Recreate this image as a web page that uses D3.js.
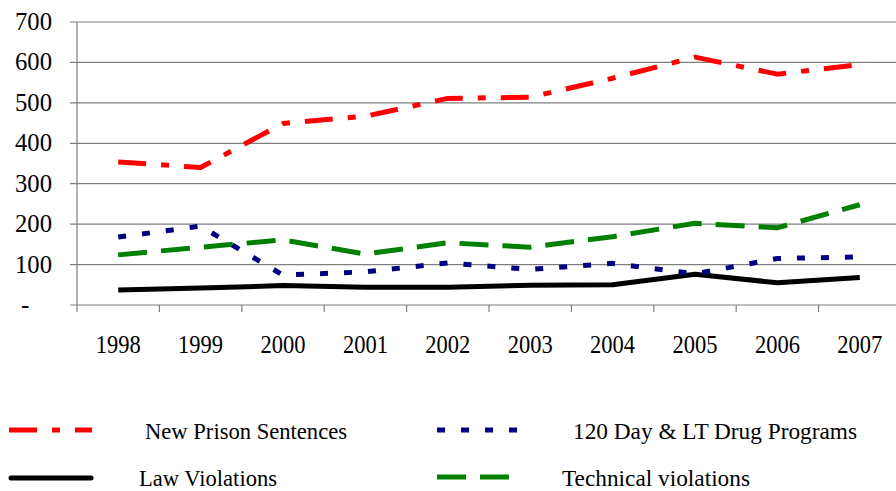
<!DOCTYPE html>
<html><head><meta charset="utf-8">
<script src="https://cdn.jsdelivr.net/npm/d3@7"></script>
</head><body style="margin:0">
<svg id="c" width="896" height="491" font-family="Liberation Serif">
</svg>
<script>
const years = ["1998","1999","2000","2001","2002","2003","2004","2005","2006","2007"];
const newPrison = [354, 340, 449, 467, 511, 514, 561, 613, 571, 595];
const drugPrograms = [168, 195, 74, 82, 104, 88, 103, 77, 115, 119];
const lawViolations = [37, 42, 48, 44, 44, 49, 50, 76, 55, 68];
const technical = [124, 143, 161, 126, 154, 143, 169, 202, 191, 248];
const yTicks = [0, 100, 200, 300, 400, 500, 600, 700];
const yTickLabels = ["-", "100", "200", "300", "400", "500", "600", "700"];
const seriesNames = ["New Prison Sentences", "120 Day & LT Drug Programs", "Law Violations", "Technical violations"];

const FONT = "Liberation Serif";
const svg = d3.select("#c");
const x = d3.scaleBand().domain(years).range([77, 901]);
const y = d3.scaleLinear().domain([0, 700]).range([305, 22]);

// gridlines
svg.append("g").selectAll("line").data(yTicks).join("line")
  .attr("x1", 70).attr("x2", 896)
  .attr("y1", d => y(d)).attr("y2", d => y(d))
  .attr("stroke", "#7f7f7f").attr("stroke-width", 1.2);
// y axis
svg.append("line").attr("x1", 77).attr("x2", 77).attr("y1", y(700)).attr("y2", y(0))
  .attr("stroke", "#7f7f7f").attr("stroke-width", 1.2);
// x ticks
svg.append("g").selectAll("line").data(years).join("line")
  .attr("x1", d => x(d)).attr("x2", d => x(d)).attr("y1", 305).attr("y2", 312)
  .attr("stroke", "#7f7f7f").attr("stroke-width", 1.2);

// y labels
svg.append("g").selectAll("text").data(yTicks).join("text")
  .attr("x", d => d === 0 ? 21 : 15).attr("y", d => y(d) + 8)
  .attr("font-family", FONT).attr("font-size", 25).attr("fill", "#000")
  .attr("textLength", d => d === 0 ? null : 37).attr("lengthAdjust", "spacingAndGlyphs")
  .text((d, i) => yTickLabels[i]);
// x labels
svg.append("g").selectAll("text").data(years).join("text")
  .attr("x", d => x(d) + x.bandwidth() / 2 - 22.5).attr("y", 353)
  .attr("font-family", FONT).attr("font-size", 26).attr("fill", "#000")
  .attr("textLength", 45).attr("lengthAdjust", "spacingAndGlyphs")
  .text(d => d);

const series = [
  {name: seriesNames[0], values: newPrison, color: "#ff0000", dash: "28,15,8,15"},
  {name: seriesNames[1], values: drugPrograms, color: "#000080", dash: "8,16"},
  {name: seriesNames[2], values: lawViolations, color: "#000000", dash: null},
  {name: seriesNames[3], values: technical, color: "#008000", dash: "29,14"}
];
const line = d3.line().x((d, i) => x(years[i]) + x.bandwidth() / 2).y(d => y(d));
[2, 3, 1, 0].forEach(k => {
  const s = series[k];
  svg.append("path").datum(s.values).attr("d", line)
    .attr("fill", "none").attr("stroke", s.color).attr("stroke-width", 5)
    .attr("stroke-dasharray", s.dash).attr("stroke-linejoin", "round").attr("stroke-linecap", "butt");
});

// legend
const leg = [
  {k: 0, x1: 9, x2: 92, ly: 430, tx: 145, ty: 439, w: 202},
  {k: 1, x1: 437, x2: 517, ly: 430, tx: 573, ty: 439, w: 284},
  {k: 2, x1: 11, x2: 91, ly: 478, tx: 139, ty: 486, w: 138},
  {k: 3, x1: 437, x2: 509, ly: 477, tx: 562, ty: 486, w: 188}
];
leg.forEach(l => {
  const s = series[l.k];
  svg.append("line").attr("x1", l.x1).attr("x2", l.x2).attr("y1", l.ly).attr("y2", l.ly)
    .attr("stroke", s.color).attr("stroke-width", 5).attr("stroke-dasharray", s.dash)
    .attr("stroke-linecap", s.dash ? "butt" : "round");
  svg.append("text").attr("x", l.tx).attr("y", l.ty)
    .attr("font-family", FONT).attr("font-size", 24).attr("fill", "#000")
    .attr("textLength", l.w).attr("lengthAdjust", "spacingAndGlyphs")
    .text(s.name);
});
</script>
</body></html>
